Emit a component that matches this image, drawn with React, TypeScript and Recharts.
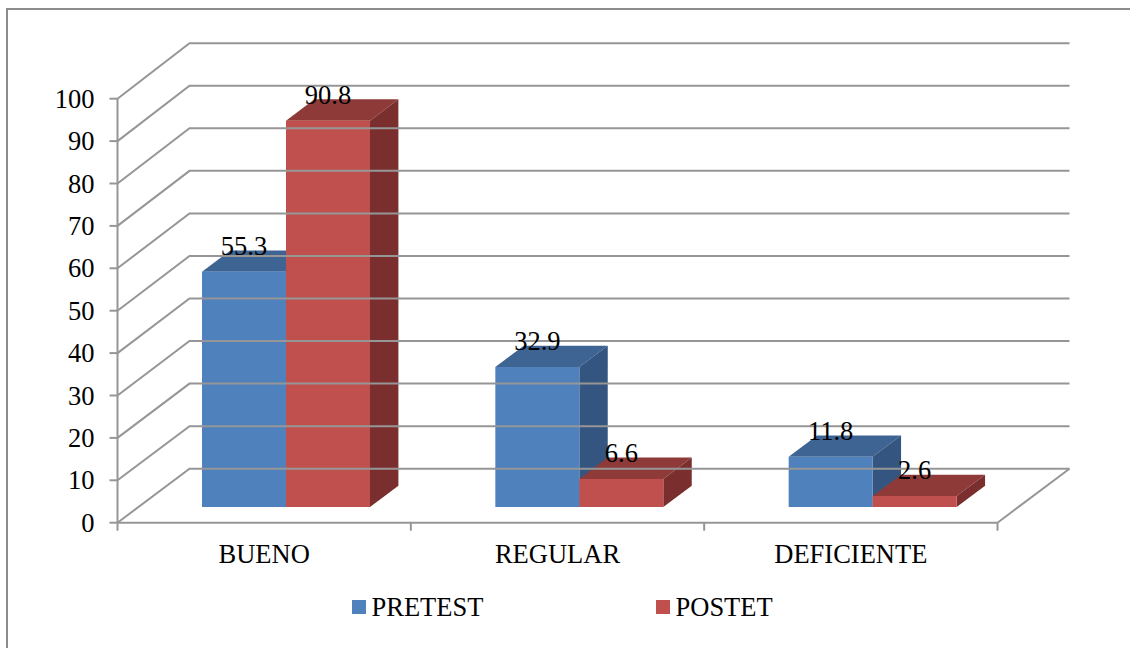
import React from 'react';
import { BarChart, Bar, XAxis, YAxis, Legend, LabelList } from 'recharts';

const categories = ['BUENO', 'REGULAR', 'DEFICIENTE'];
const pretest = [55.3, 32.9, 11.8];
const postet = [90.8, 6.6, 2.6];
const yTicks = [0, 10, 20, 30, 40, 50, 60, 70, 80, 90, 100];

const chartData = categories.map((name, i) => ({ name, pretest: pretest[i], postet: postet[i] }));

const WIDTH = 1130;
const HEIGHT = 648;
const PLOT_LEFT = 117.5;
const PLOT_RIGHT = 997.5;
const PLOT_TOP = 98.7;
const PLOT_BOTTOM = 522.7;
const LEGEND_HEIGHT = 30;
const BAND = (PLOT_RIGHT - PLOT_LEFT) / categories.length;

// wall depth and bar depth, the fake 3D part
const WALL_DX = 72;
const WALL_DY = 54;
const WALL_STRETCH = 1.0035; // the back wall is a touch taller than the front axis
const BAR_SHIFT_X = 21.5;
const BAR_SHIFT_Y = 15.7;
const BAR_DX = 28.4;
const BAR_DY = 21.3;

const GRID = '#969696';
const FONT = '"Liberation Serif", "Times New Roman", serif';
const FONT_SIZE = 26.5;

const barTop = (props: any) => props.y + props.height - props.height * WALL_STRETCH - BAR_SHIFT_Y;

const makeBar = (front: string, top: string, side: string) => (props: any) => {
  const x = props.x + BAR_SHIFT_X;
  const y = barTop(props);
  const w = props.width;
  const h = props.height * WALL_STRETCH;
  return (
    <g>
      <polygon
        points={`${x},${y} ${x + BAR_DX},${y - BAR_DY} ${x + w + BAR_DX},${y - BAR_DY} ${x + w},${y}`}
        fill={top}
      />
      <polygon
        points={`${x + w},${y} ${x + w + BAR_DX},${y - BAR_DY} ${x + w + BAR_DX},${y + h - BAR_DY} ${x + w},${y + h}`}
        fill={side}
      />
      <rect x={x} y={y} width={w} height={h} fill={front} />
    </g>
  );
};

const ValueLabel = (props: any) => (
  <text
    x={props.x + props.width / 2 + BAR_SHIFT_X}
    y={barTop(props) - 16.7}
    textAnchor="middle"
    fontFamily={FONT}
    fontSize={FONT_SIZE}
    fill="#000"
  >
    {props.value}
  </text>
);

// y tick also draws the wall lines for that value
const YTick = (props: any) => {
  const { x, y, payload } = props;
  const backY = PLOT_BOTTOM - WALL_DY - (PLOT_BOTTOM - y) * WALL_STRETCH;
  return (
    <g>
      <polyline
        points={`${PLOT_LEFT},${y} ${PLOT_LEFT + WALL_DX},${backY} ${PLOT_RIGHT + WALL_DX},${backY}`}
        fill="none"
        stroke={GRID}
        strokeWidth={2}
      />
      {payload.value === 0 && (
        <line
          x1={PLOT_RIGHT}
          y1={y}
          x2={PLOT_RIGHT + WALL_DX}
          y2={backY}
          stroke={GRID}
          strokeWidth={2}
        />
      )}
      <text x={x} y={y + 9} textAnchor="end" fontFamily={FONT} fontSize={FONT_SIZE} fill="#000">
        {payload.value}
      </text>
    </g>
  );
};

const XTick = (props: any) => {
  const { x, payload, index } = props;
  const left = x - BAND / 2;
  const right = x + BAND / 2;
  return (
    <g>
      <line x1={left} y1={PLOT_BOTTOM} x2={left} y2={PLOT_BOTTOM + 8} stroke={GRID} strokeWidth={2} />
      {index === categories.length - 1 && (
        <line x1={right} y1={PLOT_BOTTOM} x2={right} y2={PLOT_BOTTOM + 8} stroke={GRID} strokeWidth={2} />
      )}
      <text x={x} y={563} textAnchor="middle" fontFamily={FONT} fontSize={FONT_SIZE} fill="#000">
        {payload.value}
      </text>
    </g>
  );
};

const legendLefts = [352, 656];

const LegendContent = (props: any) => (
  <div style={{ position: 'relative', width: WIDTH, height: LEGEND_HEIGHT }}>
    {props.payload.map((item: any, i: number) => (
      <React.Fragment key={item.value}>
        <div
          style={{
            position: 'absolute',
            left: legendLefts[i],
            top: 10,
            width: 14,
            height: 14,
            background: item.color,
          }}
        />
        <div
          style={{
            position: 'absolute',
            left: legendLefts[i] + 19.5,
            top: 2,
            fontFamily: FONT,
            fontSize: FONT_SIZE,
            lineHeight: '30px',
            color: '#000',
            whiteSpace: 'nowrap',
          }}
        >
          {item.value}
        </div>
      </React.Fragment>
    ))}
  </div>
);

export default function App() {
  return (
    <div style={{ position: 'absolute', left: 0, top: 0, width: WIDTH, height: HEIGHT, overflow: 'hidden', background: '#fff' }}>
      {/* outer frame, only left and top are in the picture */}
      <div
        style={{
          position: 'absolute',
          left: 6,
          top: 7.5,
          width: WIDTH,
          height: HEIGHT,
          borderLeft: '2px solid #8c8c8c',
          borderTop: '2px solid #8c8c8c',
        }}
      />
      <div style={{ position: 'absolute', left: 0, top: 0 }}>
        <BarChart
          width={WIDTH}
          height={HEIGHT}
          data={chartData}
          margin={{ top: PLOT_TOP, right: WIDTH - PLOT_RIGHT, bottom: 0, left: 0 }}
          barSize={84}
          barGap={0}
        >
          <YAxis
            domain={[0, 100]}
            ticks={yTicks}
            interval={0}
            width={PLOT_LEFT}
            axisLine={{ stroke: GRID, strokeWidth: 2 }}
            tickLine={{ stroke: GRID, strokeWidth: 2 }}
            tickSize={8}
            tickMargin={15}
            tick={YTick}
          />
          <XAxis
            dataKey="name"
            interval={0}
            height={HEIGHT - PLOT_BOTTOM - LEGEND_HEIGHT}
            axisLine={{ stroke: GRID, strokeWidth: 2 }}
            tickLine={false}
            tick={XTick}
          />
          <Legend
            content={LegendContent}
            height={LEGEND_HEIGHT}
            itemSorter={null}
            wrapperStyle={{ position: 'absolute', left: 0, top: 590, bottom: 'auto', width: WIDTH, height: LEGEND_HEIGHT }}
          />
          <Bar dataKey="pretest" name="PRETEST" fill="#4f81bd" isAnimationActive={false} shape={makeBar('#4f81bd', '#3e6493', '#34557f')}>
            <LabelList dataKey="pretest" content={ValueLabel} />
          </Bar>
          <Bar dataKey="postet" name="POSTET" fill="#c0504d" isAnimationActive={false} shape={makeBar('#c0504d', '#8e3a38', '#7a2f2e')}>
            <LabelList dataKey="postet" content={ValueLabel} />
          </Bar>
        </BarChart>
      </div>
    </div>
  );
}
